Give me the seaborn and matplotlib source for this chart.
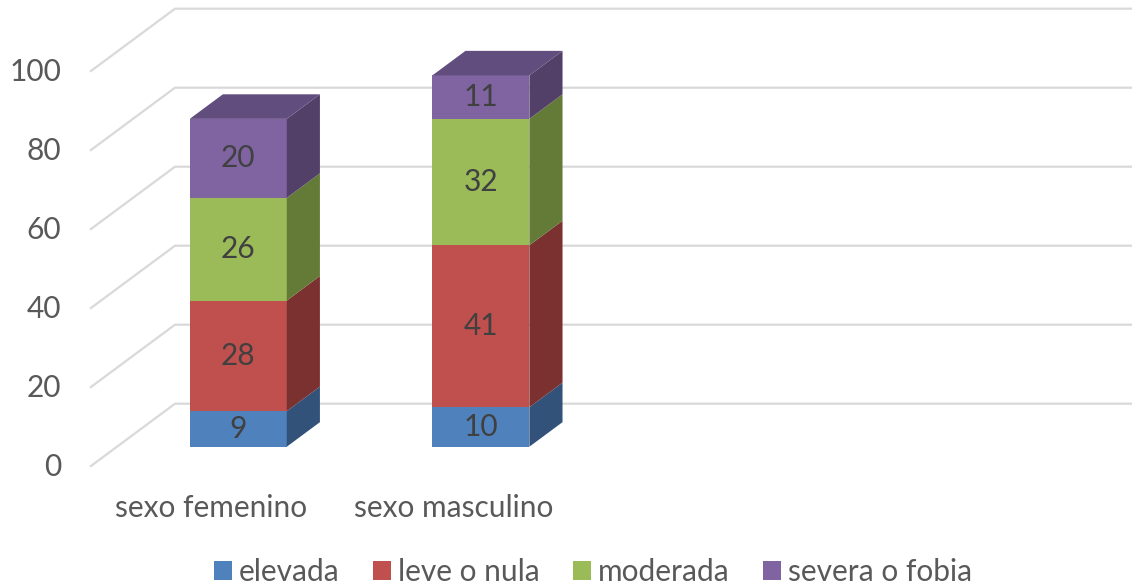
import numpy as np
import pandas as pd
import matplotlib
matplotlib.use("Agg")
import matplotlib.pyplot as plt
from matplotlib.patches import Polygon, Patch
import seaborn as sns

categories = ["sexo femenino", "sexo masculino"]
series = ["elevada", "leve o nula", "moderada", "severa o fobia"]
elevada = [9, 10]
leve = [28, 41]
moderada = [26, 32]
severa = [20, 11]
yticks = [0, 20, 40, 60, 80, 100]

data = pd.DataFrame({"elevada": elevada, "leve o nula": leve,
                     "moderada": moderada, "severa o fobia": severa},
                    index=categories)

sns.set_style("white")
plt.rcParams["font.family"] = ["Lato", "DejaVu Sans"]

front = ["#4F81BD", "#C0504D", "#9BBB59", "#8064A2"]
side = ["#32527A", "#7A3130", "#647A37", "#524068"]
top = ["#3F6797", "#993F3D", "#7C9647", "#614D7E"]
text_col = "#595959"
grid_col = "#D9D9D9"
fs = 21.5

# pseudo 3d: depth offset of the back wall in data units
DX, DY = 0.3504, 15.95
d0, dd = 0.317, 0.39
width = 0.4
px_x, px_y = 242.6, 3.95  # pixels per unit

fig = plt.figure(figsize=(11.32, 5.87), dpi=100)
ax = fig.add_axes([0, 0, 1, 1])
ax.set_xlim(-90 / px_x, (1132 - 90) / px_x)
ax.set_ylim((466.7 - 587) / px_y, 466.7 / px_y)
ax.axis("off")

# gridlines: front-left diagonal then back wall
for t in yticks:
    ax.plot([0, DX, 10], [t, t + DY, t + DY], color=grid_col, lw=1.6, zorder=1,
            solid_capstyle="butt")
    ax.text(-29 / px_x, t, str(t), ha="right", va="center", fontsize=fs,
            color=text_col)

for i, cat in enumerate(categories):
    xl = i + 0.5 - width / 2 + d0 * DX
    xr = xl + width
    base = d0 * DY
    for j, s in enumerate(series):
        v = data.loc[cat, s]
        ax.bar(xl, v, width=width, bottom=base, align="edge", color=front[j],
               linewidth=0, zorder=3)
        ax.add_patch(Polygon([(xr, base), (xr + dd * DX, base + dd * DY),
                              (xr + dd * DX, base + v + dd * DY), (xr, base + v)],
                             closed=True, facecolor=side[j], lw=0, zorder=3))
        ax.text((xl + xr) / 2, base + v / 2, str(v), ha="center", va="center",
                fontsize=fs, color="#404040", zorder=4)
        base += v
    ax.add_patch(Polygon([(xl, base), (xr, base), (xr + dd * DX, base + dd * DY),
                          (xl + dd * DX, base + dd * DY)],
                         closed=True, facecolor=top[-1], lw=0, zorder=3))
    ax.text(i + 0.5, (466.7 - 508) / px_y, cat, ha="center", va="center",
            fontsize=fs, color=text_col)

handles = [Patch(facecolor=c, edgecolor="none") for c in front]
leg = fig.legend(handles, series, loc="center", ncol=4, frameon=False,
                 bbox_to_anchor=(593 / 1132, 1 - 572 / 587), fontsize=fs,
                 handlelength=0.6, handleheight=0.6, handletextpad=0.25,
                 columnspacing=1.1, labelcolor=text_col)

fig.savefig("out.png", dpi=100)
